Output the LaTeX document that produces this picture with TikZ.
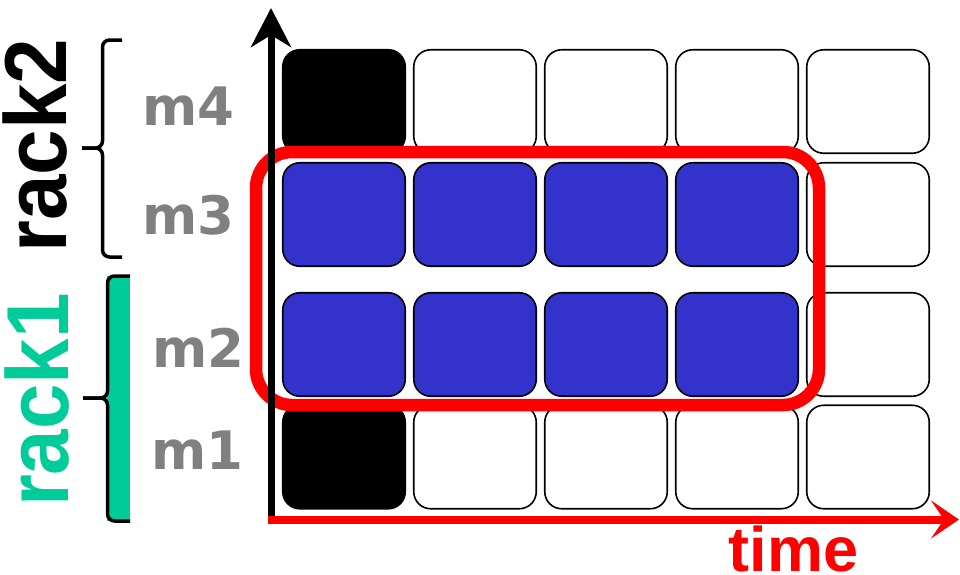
\documentclass[tikz,border=0pt]{standalone}
\usepackage{fontspec}
\usepackage{graphicx}
\setmainfont{Liberation Sans}
\newfontfamily\djv{DejaVu Sans}
\usetikzlibrary{arrows.meta}
\definecolor{cellblue}{RGB}{51,51,204}
\definecolor{rackteal}{RGB}{0,204,153}
\definecolor{labgray}{RGB}{128,128,128}
\definecolor{axred}{RGB}{255,0,0}
\begin{document}
\begin{tikzpicture}[x=1pt,y=-1pt,
  cell/.style={draw=black, line width=1.6pt, rounded corners=17pt,
    minimum width=122.5pt, minimum height=103.5pt, inner sep=0pt},
  mlab/.style={text=labgray, inner sep=0pt, font=\djv\bfseries\fontsize{53}{55}\selectfont},
  racklab/.style={rotate=90, inner sep=0pt, font=\bfseries\fontsize{88}{90}\selectfont},
  bracepath/.style={draw=black, line width=3.5pt, rounded corners=7pt},
  selbox/.style={draw=axred, line width=12.5pt, rounded corners=36pt,
    minimum width=563pt, minimum height=253pt, inner sep=0pt}]
\useasboundingbox (0,0) rectangle (960,574);
% cells
\foreach \r/\yy in {4/101.5,3/214.5,2/344.5,1/457}{
  \foreach \c/\xx in {1/344,2/475,3/606,4/737,5/868}{
    \def\fc{white}
    \ifnum\c=1 \ifnum\r=4 \def\fc{black}\fi \ifnum\r=1 \def\fc{black}\fi \fi
    \ifnum\c<5 \ifnum\r=3 \def\fc{cellblue}\fi \ifnum\r=2 \def\fc{cellblue}\fi \fi
    \node[cell, fill=\fc] (c\r\c) at (\xx,\yy) {};
  }
}
% selection box
\node[selbox] (sel) at (537.5,278.5) {};
% axes
\coordinate (o) at (271,517.5);
\coordinate (ytip) at (271,8);
\coordinate (xo) at (268,519.5);
\coordinate (xtip) at (959,519.5);
\draw[line width=7pt, -{Stealth[length=39pt,width=40pt,inset=12pt]}] (o) -- (ytip);
\draw[axred, line width=8pt, -{Stealth[length=28pt,width=38pt,inset=13pt]}] (xo) -- (xtip);
\node[anchor=base, text=axred, inner sep=0pt, font=\bfseries\fontsize{63}{65}\selectfont] (tl) at (793.5,571.5) {time};
% machine labels
\node[mlab] (l4) at (188.5,106.5) {m4};
\node[mlab] (l3) at (188.5,215) {m3};
\node[mlab] (l2) at (198.5,347.5) {m2};
\node[mlab] (l1) at (197.5,450.5) {m1};
% rack2 brace
\draw[bracepath] (122,40) -- (102.5,40) -- (102.5,148) -- (82,148);
\draw[bracepath] (122,257) -- (102.5,257) -- (102.5,148) -- (82,148);
% rack1 bar and brace
\fill[rackteal] (107,276) rectangle (130,521);
\draw[bracepath] (130,276) -- (107.5,276) -- (107.5,398) -- (83,398);
\draw[bracepath] (130,521) -- (107.5,521) -- (107.5,398) -- (83,398);
% rack labels
\node[racklab, text=black] (r2) at (35.5,145.5) {\scalebox{0.93}[1]{rack2}};
\node[racklab, text=rackteal] (r1) at (37.5,400) {\scalebox{0.93}[1]{rack1}};
\end{tikzpicture}
\end{document}
